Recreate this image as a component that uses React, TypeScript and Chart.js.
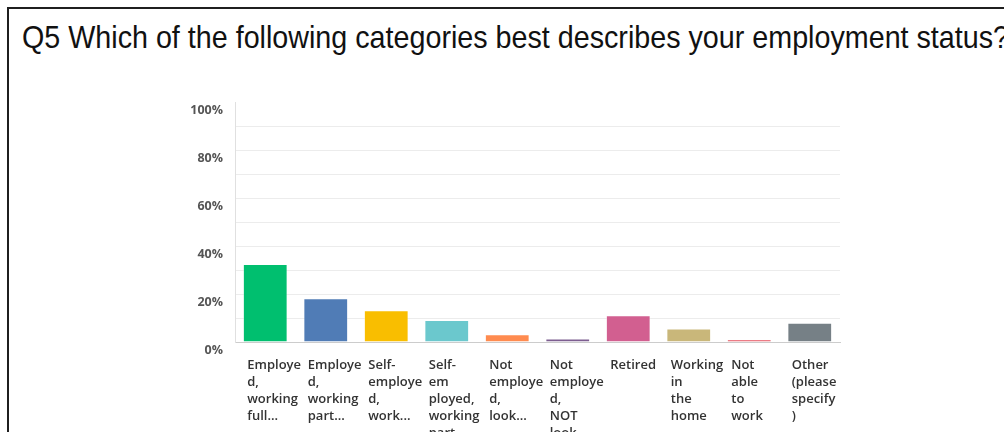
import React, { useEffect, useRef } from "react";
import { Chart, registerables } from "chart.js";

Chart.register(...registerables);

const TITLE = "Q5 Which of the following categories best describes your employment status?";

const categories: string[][] = [
  ["Employe", "d,", "working", "full..."],
  ["Employe", "d,", "working", "part..."],
  ["Self-", "employe", "d,", "work..."],
  ["Self-", "em", "ployed,", "working", "part..."],
  ["Not", "employe", "d,", "look..."],
  ["Not", "employe", "d,", "NOT", "look..."],
  ["Retired"],
  ["Working", "in", "the", "home"],
  ["Not", "able", "to", "work"],
  ["Other", "(please", "specify", ")"],
];

const values: number[] = [32.5, 18.2, 13.2, 9.2, 3.2, 1.5, 11.1, 5.6, 1.1, 8.0];

const barColors: string[] = [
  "#00BF6F",
  "#507CB6",
  "#F9BE00",
  "#6BC8CD",
  "#FF8B4F",
  "#7D5E90",
  "#D25F90",
  "#C9B77A",
  "#E5505E",
  "#768086",
];

const yTickStep = 10;

export default function App() {
  const canvasRef = useRef<HTMLCanvasElement | null>(null);

  useEffect(() => {
    if (!canvasRef.current) return;
    const chart = new Chart(canvasRef.current, {
      type: "bar",
      data: {
        labels: categories,
        datasets: [
          {
            data: values,
            backgroundColor: barColors,
            borderColor: "rgba(255,255,255,0.3)",
            borderWidth: 1,
            barPercentage: 0.74,
            categoryPercentage: 1,
          },
        ],
      },
      options: {
        animation: false,
        responsive: false,
        devicePixelRatio: 1,
        layout: { padding: { left: 176, right: 164, top: 102, bottom: 0 } },
        plugins: {
          legend: { display: false },
          tooltip: { enabled: false },
          title: { display: false },
        },
        scales: {
          x: {
            afterFit: (scale: any) => {
              scale.height = 90;
            },
            grid: { display: false, drawTicks: false },
            border: { display: true, color: "#cccccc", width: 1 },
            ticks: {
              autoSkip: false,
              maxRotation: 0,
              minRotation: 0,
              align: "start",
              labelOffset: -18,
              padding: 15,
              color: "#333333",
              font: { family: "'Open Sans', sans-serif", size: 13, weight: "600", lineHeight: 17 / 13 },
            },
          },
          y: {
            min: 0,
            max: 100,
            afterFit: (scale: any) => {
              scale.width = 59;
            },
            grid: {
              drawTicks: false,
              color: (ctx: any) =>
                ctx.tick && ctx.tick.value === 100
                  ? "rgba(0,0,0,0)"
                  : ctx.tick && ctx.tick.value === 0
                  ? "#cccccc"
                  : "#ececec",
            },
            border: { display: true, color: "#e0e0e0", width: 1 },
            ticks: {
              stepSize: yTickStep,
              padding: 12,
              labelOffset: 8,
              color: "#555555",
              font: { family: "'Open Sans', sans-serif", size: 12.5, weight: "700" },
              callback: (v: any) => (Number(v) % 20 === 0 ? `${v}%` : ""),
            },
          },
        },
      },
    });
    return () => chart.destroy();
  }, []);

  return (
    <div
      style={{
        position: "fixed",
        left: 0,
        top: 0,
        width: "100vw",
        height: "100vh",
        overflow: "hidden",
        background: "#ffffff",
      }}
    >
      <div
        style={{
          position: "absolute",
          left: 7,
          top: 7,
          width: 1200,
          height: 600,
          border: "2px solid #1f1f1f",
          boxSizing: "border-box",
        }}
      />
      <div
        style={{
          position: "absolute",
          left: 22,
          top: 24,
          whiteSpace: "nowrap",
          fontFamily: "'Liberation Sans', Arial, sans-serif",
          fontSize: 28.7,
          lineHeight: "29px",
          color: "#111111",
          transform: "scaleY(1.1)",
          transformOrigin: "0 24.5px",
        }}
      >
        {TITLE}
      </div>
      <canvas
        ref={canvasRef}
        width={1004}
        height={432}
        style={{ position: "absolute", left: 0, top: 0, width: 1004, height: 432 }}
      />
    </div>
  );
}
